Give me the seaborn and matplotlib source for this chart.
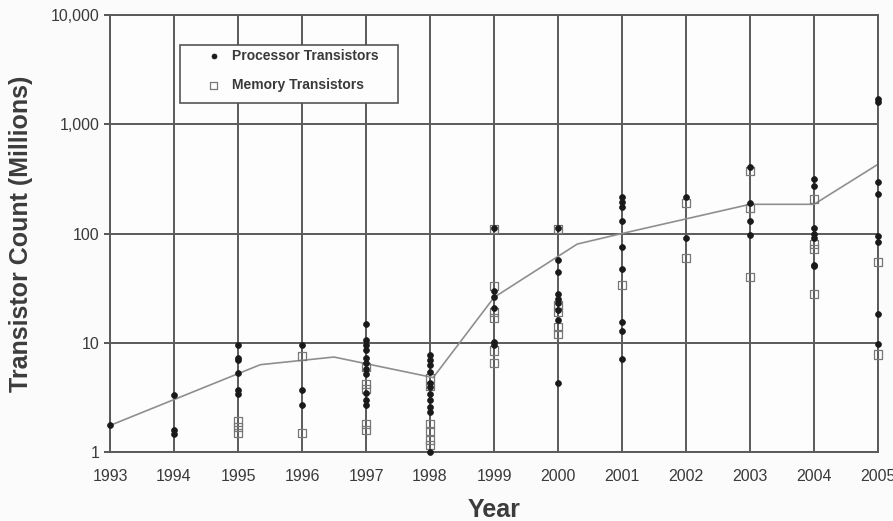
import numpy as np
import pandas as pd
import seaborn as sns
from matplotlib import pyplot as plt
from matplotlib.patches import Rectangle
from matplotlib.ticker import FuncFormatter, FixedLocator, NullLocator

sns.set_style('white')
plt.rcParams['font.family'] = ['Liberation Sans', 'DejaVu Sans']

# Data (millions of transistors)
years = [1993, 1994, 1995, 1996, 1997, 1998, 1999, 2000, 2001, 2002, 2003, 2004, 2005]

processor = [
    [1.75],
    [3.3, 1.6, 1.45],
    [9.5, 7.3, 6.9, 5.3, 3.7, 3.4],
    [9.5, 3.7, 2.7],
    [15, 10.5, 9.5, 8.5, 7.2, 6.5, 5.8, 5.2, 3.5, 3.0, 2.7],
    [7.8, 7.0, 6.2, 5.4, 4.3, 3.9, 3.4, 3.0, 2.6, 2.3, 1.0],
    [113, 30, 26, 21, 10.2, 9.5],
    [113, 57, 44, 28, 25, 23, 20, 16, 4.3],
    [214, 195, 175, 130, 75, 47, 15.5, 12.8, 7.1],
    [215, 90],
    [410, 190, 130, 97],
    [315, 275, 112, 100, 90, 52, 50],
    [1700, 1600, 295, 230, 95, 83, 18.5, 9.8],
]

memory = [
    [],
    [],
    [1.9, 1.7, 1.5],
    [7.6, 1.5],
    [6.0, 4.2, 3.8, 1.8, 1.6],
    [4.8, 4.0, 1.8, 1.55, 1.3, 1.15],
    [110, 33, 19, 17, 8.5, 6.5],
    [110, 22, 19, 14, 12],
    [34],
    [190, 60],
    [370, 170, 40],
    [205, 80, 72, 28],
    [55, 7.8],
]

# Trend line (average) vertices
trend_x = [1993, 1995.35, 1996.5, 1998.05, 1999, 2000.3, 2001, 2003, 2004, 2005]
trend_y = [1.75, 6.3, 7.4, 4.8, 26, 80, 100, 185, 185, 430]

proc_df = pd.DataFrame([(y, v) for y, vals in zip(years, processor) for v in vals],
                       columns=['Year', 'Count'])
mem_df = pd.DataFrame([(y, v) for y, vals in zip(years, memory) for v in vals],
                      columns=['Year', 'Count'])
trend_df = pd.DataFrame({'Year': trend_x, 'Count': trend_y})

fig = plt.figure(figsize=(8.93, 5.21), dpi=100, facecolor='#fbfbfb')
ax = fig.add_axes([110 / 893, 1 - 452 / 521, 768 / 893, 437 / 521])
ax.set_facecolor('#fdfdfd')

ax.set_yscale('log')
ax.set_xlim(1993, 2005)
ax.set_ylim(1, 10000)

# grid
ax.set_xticks(years)
ax.yaxis.set_major_locator(FixedLocator([1, 10, 100, 1000, 10000]))
ax.yaxis.set_minor_locator(NullLocator())
ax.grid(True, which='major', color='#5a5a5a', linewidth=1.4, zorder=0)
ax.set_axisbelow(True)

sns.lineplot(data=trend_df, x='Year', y='Count', ax=ax, color='#8f8f8f',
             linewidth=1.2, zorder=2)

sns.scatterplot(data=mem_df, x='Year', y='Count', ax=ax, marker='s', s=34,
                facecolor='none', edgecolor='#777777', linewidth=0.9,
                zorder=3, clip_on=False, label='Memory Transistors')
sns.scatterplot(data=proc_df, x='Year', y='Count', ax=ax, marker='o', s=18,
                color='#1a1a1a', edgecolor='#1a1a1a', linewidth=0.5,
                zorder=4, clip_on=False, label='Processor Transistors')

ax.yaxis.set_major_formatter(FuncFormatter(lambda v, p: f'{v:,.0f}'))
ax.tick_params(axis='both', labelsize=11.5, colors='#3a3a3a', length=4.5,
               width=1.2, direction='out')
ax.tick_params(axis='x', bottom=False, pad=8)
ax.tick_params(axis='y', left=True, pad=3)

for s in ax.spines.values():
    s.set_color('#5a5a5a')
    s.set_linewidth(1.4)

ax.set_xlabel('Year', fontsize=18, fontweight='bold', color='#3c3c3c')
ax.set_ylabel('Transistor Count (Millions)', fontsize=18, fontweight='bold',
              color='#3c3c3c')
ax.xaxis.set_label_coords(0.5, -0.105)
ax.yaxis.set_label_coords(-0.1, 0.5)

# legend box
ax.add_patch(Rectangle((70 / 768, 1 - 88 / 437), 218 / 768, 58 / 437,
                       transform=ax.transAxes, facecolor='#fdfdfd',
                       edgecolor='#555555', linewidth=1.2, zorder=5, clip_on=False))
handles, labels = ax.get_legend_handles_labels()
order = [labels.index('Processor Transistors'), labels.index('Memory Transistors')]
leg = ax.legend([handles[i] for i in order], [labels[i] for i in order],
                loc='upper left', bbox_to_anchor=(94 / 768, 1 - 34 / 437),
                prop={'size': 10, 'weight': 'bold'}, frameon=False,
                borderpad=0, borderaxespad=0, labelspacing=1.1,
                handlelength=1.4, handletextpad=0.6, markerscale=0.85)
leg.set_zorder(6)
for t in leg.get_texts():
    t.set_color('#3a3a3a')

fig.savefig('out.png', dpi=100, facecolor=fig.get_facecolor())
